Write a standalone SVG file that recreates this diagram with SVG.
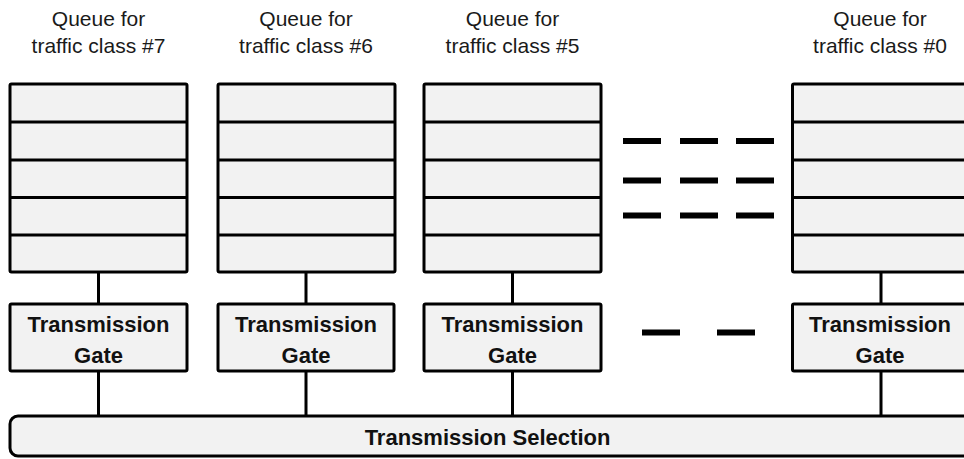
<svg xmlns="http://www.w3.org/2000/svg" width="964" height="459" viewBox="0 0 964 459">
<style>
.box{fill:#f2f2f2;stroke:#000;stroke-width:3;stroke-linejoin:round}
.row{stroke:#000;stroke-width:3;fill:none}
.conn{stroke:#000;stroke-width:3;fill:none}
.dash{stroke:#000;stroke-width:6;fill:none}
.lbl{font-family:"Liberation Sans",Arial,sans-serif;font-size:21px;fill:#1a1a1a;text-anchor:middle}
.bold{font-family:"Liberation Sans",Arial,sans-serif;font-size:22px;font-weight:bold;fill:#111;text-anchor:middle}
</style>
<defs>
<g id="queue">
<rect class="box" x="0" y="84" width="177" height="188" rx="1.5"/>
<path class="row" d="M0 122H177M0 160H177M0 197.5H177M0 235H177"/>
</g>
</defs>

<g id="connectors">
<path class="conn" d="M98.5 272V304M98.5 371V416M306 272V304M306 371V416M512.5 272V304M512.5 371V416M881 272V304M881 371V416"/>
</g>

<g id="queue7">
<text class="lbl" x="98.5" y="26">Queue for</text>
<text class="lbl" x="98.5" y="53">traffic class #7</text>
<use href="#queue" x="10"/>
</g>
<g id="queue6">
<text class="lbl" x="306" y="26">Queue for</text>
<text class="lbl" x="306" y="53">traffic class #6</text>
<use href="#queue" x="218"/>
</g>
<g id="queue5">
<text class="lbl" x="512.5" y="26">Queue for</text>
<text class="lbl" x="512.5" y="53">traffic class #5</text>
<use href="#queue" x="424"/>
</g>
<g id="queue0">
<text class="lbl" x="880" y="26">Queue for</text>
<text class="lbl" x="880" y="53">traffic class #0</text>
<use href="#queue" x="792.5"/>
</g>

<g id="queue-ellipsis">
<path class="dash" d="M623 141H661M680 141H718M736 141H774M623 180.5H661M680 180.5H718M736 180.5H774M623 215.5H661M680 215.5H718M736 215.5H774"/>
</g>

<g id="gate7">
<rect class="box" x="10" y="304" width="177" height="67" rx="1.5"/>
<text class="bold" x="98.5" y="331.5">Transmission</text>
<text class="bold" x="98.5" y="363">Gate</text>
</g>
<g id="gate6">
<rect class="box" x="218" y="304" width="176" height="67" rx="1.5"/>
<text class="bold" x="306" y="331.5">Transmission</text>
<text class="bold" x="306" y="363">Gate</text>
</g>
<g id="gate5">
<rect class="box" x="424" y="304" width="177" height="67" rx="1.5"/>
<text class="bold" x="512.5" y="331.5">Transmission</text>
<text class="bold" x="512.5" y="363">Gate</text>
</g>
<g id="gate0">
<rect class="box" x="792.5" y="304" width="177" height="67" rx="1.5"/>
<text class="bold" x="880" y="331.5">Transmission</text>
<text class="bold" x="880" y="363">Gate</text>
</g>

<g id="gate-ellipsis">
<path class="dash" d="M642 332.5H680M717 332.5H755"/>
</g>

<g id="selection">
<rect class="box" x="10" y="416" width="962" height="40" rx="8"/>
<text class="bold" x="487.5" y="445">Transmission Selection</text>
</g>
</svg>
